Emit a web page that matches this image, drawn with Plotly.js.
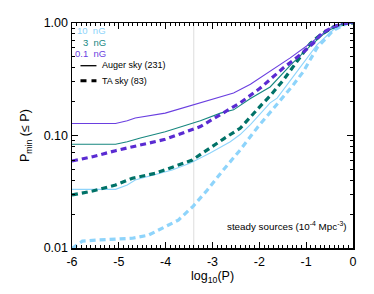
<!DOCTYPE html>
<html><head><meta charset="utf-8">
<script src="https://cdn.plot.ly/plotly-3.0.1.min.js"></script>
<style>html,body{margin:0;padding:0;background:#fff}#c{width:374px;height:294px}</style>
</head><body><div id="c"></div>
<script>
// 0.1 nG, Auger sky (solid)
const x01A = [-6, -5.07, -4.82, -4.65, -4.01, -3.26, -2.55, -2.19, -1.77, -1.34, -0.91, -0.64, -0.49, -0.25, 0];
const y01A = [0.128, 0.128, 0.135, 0.143, 0.158, 0.194, 0.239, 0.285, 0.37, 0.49, 0.66, 0.815, 0.90, 0.98, 1.0];
// 3 nG, Auger sky (solid)
const x3A = [-6, -5.07, -4.82, -4.54, -4.01, -3.26, -2.83, -2.55, -2.19, -1.77, -1.34, -0.91, -0.55, -0.25, 0];
const y3A = [0.0835, 0.0835, 0.088, 0.095, 0.108, 0.135, 0.158, 0.169, 0.213, 0.27, 0.42, 0.625, 0.85, 0.97, 1.0];
// 10 nG, Auger sky (solid)
const x10A = [-6, -5.07, -4.82, -4.65, -4.50, -3.86, -3.47, -3.05, -2.62, -2.41, -2.19, -1.77, -1.62, -1.13, -0.77, -0.42, -0.13, 0];
const y10A = [0.0332, 0.0332, 0.0363, 0.0402, 0.0419, 0.0494, 0.057, 0.070, 0.088, 0.102, 0.125, 0.195, 0.215, 0.40, 0.64, 0.87, 0.99, 1.0];
// 0.1 nG, TA sky (dashed)
const x01T = [-6, -5.56, -5.07, -4.71, -4.22, -4.01, -3.26, -2.83, -2.41, -1.98, -1.49, -1.13, -0.85, -0.66, -0.4, -0.2, 0];
const y01T = [0.0593, 0.0648, 0.0733, 0.0795, 0.088, 0.0925, 0.12, 0.152, 0.195, 0.264, 0.398, 0.52, 0.66, 0.815, 0.93, 0.99, 1.0];
// 3 nG, TA sky (dashed)
const x3T = [-6, -5.56, -5.07, -4.71, -4.22, -3.43, -2.77, -2.41, -1.94, -1.77, -1.49, -1.19, -0.91, -0.70, -0.4, -0.15, 0];
const y3T = [0.0296, 0.0321, 0.0363, 0.0417, 0.0461, 0.0606, 0.093, 0.116, 0.19, 0.225, 0.31, 0.46, 0.66, 0.78, 0.93, 0.995, 1.0];
// 10 nG, TA sky (dashed)
const x10T = [-6, -5.78, -5.43, -4.71, -4.37, -4.01, -3.73, -3.41, -3.11, -2.77, -2.41, -2.04, -1.77, -1.55, -1.28, -1.06, -0.77, -0.42, -0.13, 0];
const y10T = [0.0099, 0.0115, 0.0118, 0.0122, 0.0130, 0.0155, 0.0177, 0.0236, 0.0328, 0.0494, 0.0743, 0.118, 0.16, 0.205, 0.28, 0.37, 0.60, 0.86, 0.99, 1.0];

const refX = -3.4;
const xTicks = [-6, -5, -4, -3, -2, -1, 0];
const yTicks = [0.01, 0.1, 1];
const yTickText = ['0.01', '0.10', '1.00'];
const yMinor = [0.02, 0.03, 0.04, 0.05, 0.06, 0.07, 0.08, 0.09, 0.2, 0.3, 0.4, 0.5, 0.6, 0.7, 0.8, 0.9];
const fieldLabels = ['10  nG', '3  nG', '0.1  nG'];
const skyLabels = ['Auger sky (231)', 'TA sky (83)'];
const xTitle = 'log<sub>10</sub>(P)';
const yTitle = 'P<sub>min</sub> (≤ P)';

const cLight = '#8ed4fb', cTeal = '#17877f', cTealD = '#007268', cPurp = '#6a3fe0', cPurpD = '#5a2bd2';

const traces = [
  {x: x10T, y: y10T, mode: 'lines', line: {color: cLight, width: 3.2, dash: '6px,4px'}},
  {x: x10A, y: y10A, mode: 'lines', line: {color: cLight, width: 1.1}},
  {x: x3A, y: y3A, mode: 'lines', line: {color: cTeal, width: 1.1}},
  {x: x3T, y: y3T, mode: 'lines', line: {color: cTealD, width: 3.2, dash: '6px,4px'}},
  {x: x01T, y: y01T, mode: 'lines', line: {color: cPurpD, width: 3.2, dash: '6px,4px'}},
  {x: x01A, y: y01A, mode: 'lines', line: {color: cPurp, width: 1.1}}
];

const W = 281.5, H = 225, L = 71.5, T = 23;
const px = v => (v - L) / W;
const py = v => (T + H - v) / H;

const font = {family: 'Liberation Sans, Arial, sans-serif', color: '#000'};

const layout = {
  width: 374, height: 294,
  margin: {l: 71.5, r: 20.5, t: 23, b: 46},
  showlegend: false,
  paper_bgcolor: '#fff', plot_bgcolor: '#fff',
  font: Object.assign({size: 12}, font),
  xaxis: {
    range: [-6, 0], tickvals: xTicks, ticktext: xTicks.map(String),
    ticks: 'inside', ticklen: 6, tickwidth: 1, tickcolor: '#000',
    minor: {dtick: 0.1, ticks: 'inside', ticklen: 3, tickcolor: '#000', tickwidth: 1},
    showline: true, linecolor: '#000', linewidth: 1.5, mirror: 'allticks',
    showgrid: false, zeroline: false, ticklabelstandoff: 1,
    tickfont: Object.assign({size: 12.5}, font)
  },
  yaxis: {
    type: 'log', range: [-2, 0], tickvals: yTicks, ticktext: yTickText,
    ticks: 'inside', ticklen: 6, tickwidth: 1, tickcolor: '#000',
    minor: {tickvals: yMinor, ticks: 'inside', ticklen: 3, tickcolor: '#000', tickwidth: 1},
    showline: true, linecolor: '#000', linewidth: 1.5, mirror: 'allticks',
    showgrid: false, zeroline: false,
    tickfont: Object.assign({size: 12.5}, font)
  },
  shapes: [
    {type: 'line', xref: 'x', yref: 'paper', x0: refX, x1: refX, y0: 0, y1: 1, line: {color: '#dddddd', width: 1}, layer: 'below'},
    {type: 'line', xref: 'paper', yref: 'paper', x0: px(80), x1: px(96), y0: py(65.7), y1: py(65.7), line: {color: '#000', width: 1.3}},
    {type: 'line', xref: 'paper', yref: 'paper', x0: px(80), x1: px(96), y0: py(80.7), y1: py(80.7), line: {color: '#000', width: 3, dash: '6px,5px'}}
  ],
  annotations: [
    {xref: 'paper', yref: 'paper', x: px(212), y: py(277), xanchor: 'center', yanchor: 'middle', showarrow: false, text: xTitle, font: Object.assign({}, font, {size: 12.5})},
    {xref: 'paper', yref: 'paper', x: px(25), y: py(135.5), xanchor: 'center', yanchor: 'middle', textangle: -90, showarrow: false, text: yTitle, font: Object.assign({}, font, {size: 12.5})},
    {xref: 'paper', yref: 'paper', x: px(107.5), y: py(30.7), xanchor: 'right', yanchor: 'middle', showarrow: false, text: fieldLabels[0], font: Object.assign({}, font, {size: 9.5, color: cLight})},
    {xref: 'paper', yref: 'paper', x: px(107.5), y: py(42.7), xanchor: 'right', yanchor: 'middle', showarrow: false, text: fieldLabels[1], font: Object.assign({}, font, {size: 9.5, color: cTeal})},
    {xref: 'paper', yref: 'paper', x: px(107.5), y: py(53.3), xanchor: 'right', yanchor: 'middle', showarrow: false, text: fieldLabels[2], font: Object.assign({}, font, {size: 9.5, color: cPurp})},
    {xref: 'paper', yref: 'paper', x: px(99.5), y: py(65), xanchor: 'left', yanchor: 'middle', showarrow: false, text: skyLabels[0], font: Object.assign({}, font, {size: 9})},
    {xref: 'paper', yref: 'paper', x: px(99.5), y: py(80.5), xanchor: 'left', yanchor: 'middle', showarrow: false, text: skyLabels[1], font: Object.assign({}, font, {size: 9})},
    {xref: 'paper', yref: 'paper', x: px(348.5), y: py(226), xanchor: 'right', yanchor: 'middle', showarrow: false, text: 'steady sources (10<sup>-4</sup> Mpc<sup>-3</sup>)', font: Object.assign({}, font, {size: 9.8})}
  ]
};

Plotly.newPlot('c', traces, layout, {staticPlot: true, displayModeBar: false});
</script></body></html>
